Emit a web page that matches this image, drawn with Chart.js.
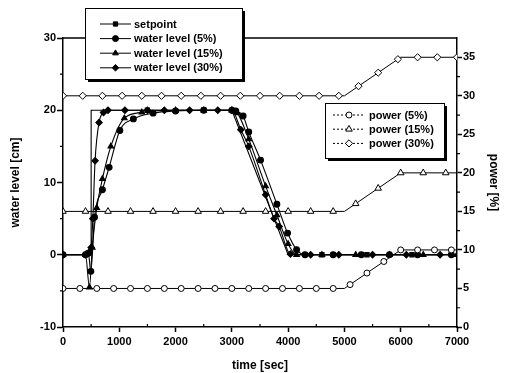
<!DOCTYPE html>
<html>
<head>
<meta charset="utf-8">
<script src="https://cdn.jsdelivr.net/npm/chart.js@4.4.0/dist/chart.umd.min.js"></script>
<style>
  html, body { margin: 0; padding: 0; background: #fff; }
  #wrap { width: 505px; height: 373px; }
</style>
</head>
<body>
<div id="wrap"><canvas id="level-chart" width="505" height="373"></canvas></div>
<script>
// WATER LEVEL (left axis, cm) vs time [sec]
var setpointTime  = [0, 500, 500, 1500, 2500, 3000, 4000, 4600, 5400, 6200, 7000];
var setpointLevel = [0, 0, 20, 20, 20, 20, 0, 0, 0, 0, 0];
var setpointMarks = [1500, 2500, 4600, 5400, 6200];

var level5Time  = [0, 400, 450, 495, 560, 700, 820, 1010, 1250, 1600, 2000, 2500, 3000, 3070, 3200, 3300, 3510, 3800, 3990, 4150, 4300, 4800, 5300, 5800, 6300, 6900];
var level5Value = [0, 0, 0.2, -2.3, 5.2, 9, 12.1, 17.2, 18.8, 19.6, 19.9, 20, 20, 19.9, 19.2, 17, 13.1, 7, 3, 0.7, 0, 0, 0, 0, 0, 0];

var level15Time  = [0, 400, 470, 520, 600, 700, 850, 1090, 1400, 2000, 2500, 3000, 3100, 3300, 3600, 3800, 4000, 4150, 4600, 5200, 5800, 6400, 7000];
var level15Value = [0, 0, -4.5, 1, 6.5, 10.5, 15, 18.9, 19.7, 20, 20, 20, 19.6, 16, 9.5, 5.5, 1.5, 0, 0, 0, 0, 0, 0];

var level30Time  = [0, 400, 460, 500, 530, 570, 640, 720, 800, 1100, 1500, 1800, 2250, 2750, 3000, 3160, 3300, 3600, 3750, 3840, 4040, 4400, 4900, 5500, 6100, 6700];
var level30Value = [0, 0, 0.3, 1, 5, 13, 18.3, 19.7, 20, 20, 20, 20, 20, 20, 20, 17.3, 15, 8.3, 5, 3.9, 0.1, 0, 0, 0, 0, 0];

// POWER (right axis, %)
var power5Time  = [0, 300, 600, 900, 1200, 1500, 1800, 2100, 2400, 2700, 3000, 3300, 3600, 3900, 4200, 4500, 4800, 5000, 5100, 5400, 5700, 6000, 6300, 6600, 6900, 7000];
var power5Value = [5, 5, 5, 5, 5, 5, 5, 5, 5, 5, 5, 5, 5, 5, 5, 5, 5, 5, 5.5, 7, 8.5, 10, 10, 10, 10, 10];

var power15Time  = [0, 400, 800, 1200, 1600, 2000, 2400, 2800, 3200, 3600, 4000, 4400, 4800, 5000, 5200, 5600, 6000, 6400, 6800, 7000];
var power15Value = [15, 15, 15, 15, 15, 15, 15, 15, 15, 15, 15, 15, 15, 15, 16, 18, 20, 20, 20, 20];

var power30Time  = [0, 350, 700, 1050, 1400, 1750, 2100, 2450, 2800, 3150, 3500, 3850, 4200, 4550, 4900, 5000, 5250, 5600, 5950, 6000, 6300, 6650, 7000];
var power30Value = [30, 30, 30, 30, 30, 30, 30, 30, 30, 30, 30, 30, 30, 30, 30, 30, 31.25, 33, 34.75, 35, 35, 35, 35];

function pts(times, values) {
  return times.map(function (t, i) { return { x: t, y: values[i] }; });
}
function everyStep(step, r) {
  return function (ctx) { return ctx.raw && ctx.raw.x % step === 0 ? r : 0; };
}

var FONT = "'Liberation Sans', Arial, sans-serif";

var levelLine = {
  borderColor: '#000', backgroundColor: '#000', borderWidth: 1.1,
  cubicInterpolationMode: 'monotone', yAxisID: 'y',
};
var powerLine = {
  borderColor: '#000', backgroundColor: '#fff', borderWidth: 1,
  pointBorderWidth: 1, yAxisID: 'y2',
};

var datasets = [
  Object.assign({}, powerLine, { label: 'power (5%)', data: pts(power5Time, power5Value), pointStyle: 'circle', pointRadius: everyStep(300, 3) }),
  Object.assign({}, powerLine, { label: 'power (15%)', data: pts(power15Time, power15Value), pointStyle: 'triangle', pointRadius: everyStep(400, 3.8) }),
  Object.assign({}, powerLine, { label: 'power (30%)', data: pts(power30Time, power30Value), pointStyle: 'rectRot', pointRadius: everyStep(350, 3.6) }),
  Object.assign({}, levelLine, { label: 'setpoint', data: pts(setpointTime, setpointLevel), cubicInterpolationMode: 'default', pointStyle: 'rect',
    pointRadius: function (ctx) { return ctx.raw && setpointMarks.indexOf(ctx.raw.x) >= 0 ? 3 : 0; } }),
  Object.assign({}, levelLine, { label: 'water level (5%)', data: pts(level5Time, level5Value), pointStyle: 'circle', pointRadius: 2.9 }),
  Object.assign({}, levelLine, { label: 'water level (15%)', data: pts(level15Time, level15Value), pointStyle: 'triangle', pointRadius: 3.2 }),
  Object.assign({}, levelLine, { label: 'water level (30%)', data: pts(level30Time, level30Value), pointStyle: 'rectRot', pointRadius: 3.2 }),
];

// short minor ticks + top frame line
var minorTicks = {
  id: 'minorTicks',
  afterDraw: function (chart) {
    var c = chart.ctx, a = chart.chartArea, s = chart.scales;
    c.save();
    c.strokeStyle = '#000';
    c.lineWidth = 1.2;
    c.beginPath();
    for (var v = 500; v < 7000; v += 1000) {
      var px = s.x.getPixelForValue(v);
      c.moveTo(px, a.bottom); c.lineTo(px, a.bottom - 3);
    }
    for (var w = -5; w < 30; w += 10) {
      var py = s.y.getPixelForValue(w);
      c.moveTo(a.left, py); c.lineTo(a.left - 3, py);
    }
    for (var p = 2.5; p < 37; p += 5) {
      var pr = s.y2.getPixelForValue(p);
      c.moveTo(a.right, pr); c.lineTo(a.right + 3, pr);
    }
    c.stroke();
    c.lineWidth = 1.5;
    c.beginPath();
    c.moveTo(a.left, a.top); c.lineTo(a.right, a.top);
    c.stroke();
    c.restore();
  }
};

// the two boxed legends with line-marker-line samples
function drawLegendBox(chart, box, rows, dashed) {
  var c = chart.ctx;
  c.save();
  c.fillStyle = '#000';
  c.fillRect(box.x + 3, box.y + 3, box.w, box.h);
  c.fillStyle = '#fff';
  c.fillRect(box.x, box.y, box.w, box.h);
  c.strokeStyle = '#000';
  c.lineWidth = 1;
  c.strokeRect(box.x + 0.5, box.y + 0.5, box.w, box.h);
  c.font = 'bold 11px ' + FONT;
  c.textBaseline = 'middle';
  rows.forEach(function (r, i) {
    var y = box.rowY + i * box.rowH;
    c.strokeStyle = '#000';
    c.lineWidth = 1;
    c.setLineDash(dashed ? [2, 2] : []);
    c.beginPath();
    c.moveTo(box.lineX, y); c.lineTo(box.lineX + box.lineW, y);
    c.stroke();
    c.setLineDash([]);
    c.fillStyle = r.fill;
    Chart.helpers.drawPoint(c, { pointStyle: r.style, radius: r.radius, rotation: 0, borderWidth: 1 }, box.lineX + box.lineW / 2, y);
    c.fillStyle = '#000';
    c.fillText(r.label, box.textX, y + 0.5);
  });
  c.restore();
}

var boxedLegends = {
  id: 'boxedLegends',
  afterDraw: function (chart) {
    drawLegendBox(chart, { x: 85, y: 8, w: 157, h: 71, rowY: 24, rowH: 14.6, lineX: 100, lineW: 31, textX: 134 }, [
      { label: 'setpoint', style: 'rect', radius: 3, fill: '#000' },
      { label: 'water level (5%)', style: 'circle', radius: 3, fill: '#000' },
      { label: 'water level (15%)', style: 'triangle', radius: 3.3, fill: '#000' },
      { label: 'water level (30%)', style: 'rectRot', radius: 3.3, fill: '#000' },
    ], false);
    drawLegendBox(chart, { x: 325, y: 103, w: 119, h: 55, rowY: 115, rowH: 14.2, lineX: 333, lineW: 32, textX: 369 }, [
      { label: 'power (5%)', style: 'circle', radius: 3, fill: '#fff' },
      { label: 'power (15%)', style: 'triangle', radius: 3.8, fill: '#fff' },
      { label: 'power (30%)', style: 'rectRot', radius: 3.6, fill: '#fff' },
    ], true);
  }
};

var tickFont = { family: FONT, size: 11, weight: 'bold' };
var titleFont = { family: FONT, size: 12, weight: 'bold' };
var plainNumber = function (v) { return String(v); };

var ctx = document.getElementById('level-chart').getContext('2d');
var levelChart = new Chart(ctx, {
  type: 'line',
  data: { datasets: datasets },
  plugins: [minorTicks, boxedLegends],
  options: {
    responsive: false,
    animation: false,
    devicePixelRatio: 1,
    layout: { padding: { top: 38, left: 0, right: 0, bottom: 0 } },
    plugins: { legend: { display: false }, tooltip: { enabled: false } },
    scales: {
      x: {
        type: 'linear', position: 'bottom', min: 0, max: 7000,
        ticks: { stepSize: 1000, color: '#000', font: tickFont, padding: 3, maxRotation: 0, callback: plainNumber },
        grid: { drawOnChartArea: false, tickLength: 5, tickColor: '#000', tickWidth: 1.5 },
        border: { color: '#000', width: 1.5 },
        title: { display: true, text: 'time [sec]', color: '#000', font: titleFont, padding: { top: 0, bottom: 0 } },
        afterFit: function (s) { s.height = 46; },
      },
      y: {
        type: 'linear', position: 'left', min: -10, max: 30,
        ticks: { stepSize: 10, color: '#000', font: tickFont, padding: 1, callback: plainNumber },
        grid: { drawOnChartArea: false, tickLength: 6, tickColor: '#000', tickWidth: 1.5 },
        border: { color: '#000', width: 1.5 },
        title: { display: true, text: 'water level [cm]', color: '#000', font: titleFont, padding: { top: 8, bottom: 0 } },
        afterFit: function (s) { s.width = 63; },
      },
      y2: {
        type: 'linear', position: 'right', min: 0, max: 37.5,
        ticks: { stepSize: 5, includeBounds: false, color: '#000', font: tickFont, padding: 1, callback: plainNumber },
        grid: { drawOnChartArea: false, tickLength: 5, tickColor: '#000', tickWidth: 1.5 },
        border: { color: '#000', width: 1.5 },
        title: { display: true, text: 'power [%]', color: '#000', font: titleFont, padding: { top: 4, bottom: 0 } },
        afterFit: function (s) { s.width = 48; },
      },
    },
  },
});
</script>
</body>
</html>
